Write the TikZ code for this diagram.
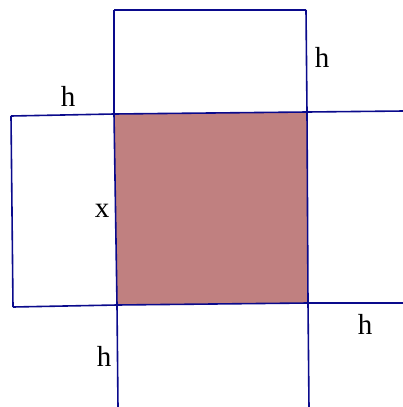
\documentclass[tikz,border=0pt]{standalone}
\usepackage{fontspec}
\setmainfont{Liberation Serif}
\definecolor{edgeblue}{RGB}{10,10,140}
\definecolor{rose}{RGB}{192,128,128}
\tikzset{edge/.style={draw=edgeblue,line width=1.6pt,line join=miter},
  lab/.style={font=\fontsize{29}{32}\selectfont,inner sep=0pt}}
\begin{document}
\begin{tikzpicture}[x=1pt,y=-1pt]
\useasboundingbox (0,0) rectangle (403,407);
\coordinate (A) at (114,114);
\coordinate (B) at (307,112);
\coordinate (C) at (308,303);
\coordinate (D) at (117,305);
\coordinate (T1) at (114,10);
\coordinate (T2) at (306,10);
\coordinate (L1) at (11,116);
\coordinate (L2) at (13,307);
\coordinate (R1) at (404,111);
\coordinate (R2) at (404,303);
\coordinate (B1) at (118,408);
\coordinate (B2) at (309,408);
\fill[rose] (A) -- (B) -- (C) -- (D) -- cycle;
\draw[edge] (L1) -- (A) -- (B) -- (R1);
\draw[edge] (L2) -- (D) -- (C) -- (R2);
\draw[edge] (T1) -- (A) -- (D) -- (B1);
\draw[edge] (T2) -- (B) -- (C) -- (B2);
\draw[edge] (T1) -- (T2);
\draw[edge] (L1) -- (L2);
\node[lab] (h1) at (68,96) {h};
\node[lab] (h2) at (322,57) {h};
\node[lab] (x1) at (102,211) {x};
\node[lab] (h3) at (104,356) {h};
\node[lab] (h4) at (365,324) {h};
\end{tikzpicture}
\end{document}
